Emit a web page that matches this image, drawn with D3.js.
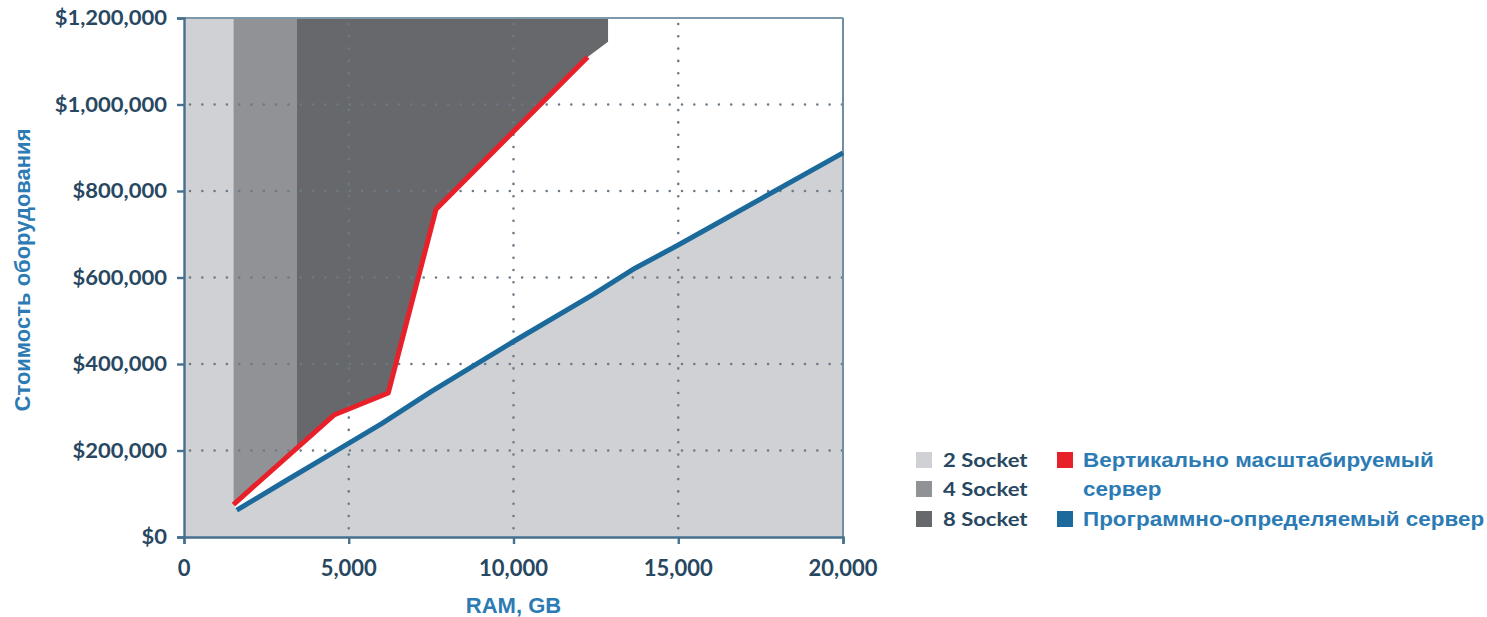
<!DOCTYPE html>
<html>
<head>
<meta charset="utf-8">
<script src="https://cdn.jsdelivr.net/npm/d3@7"></script>
<style>
  html, body { margin: 0; padding: 0; background: #ffffff; }
  svg { display: block; }
</style>
</head>
<body>
<svg id="chart" width="1487" height="617"></svg>
<script>
// RAM (GB) vs hardware cost
const xTicks = [0, 5000, 10000, 15000, 20000];
const yTicks = [0, 200000, 400000, 600000, 800000, 1000000, 1200000];

// scale-up (vertical) server: RAM GB and cost $
const scaleUpRam  = [1500, 4550, 6200, 7650, 12250];
const scaleUpCost = [75000, 282000, 333000, 758000, 1110000];

// software-defined server: RAM GB and cost $
const sdsRam  = [1600, 3000, 4500, 6000, 7500, 10000, 12400, 13700, 15000, 20000];
const sdsCost = [62000, 126000, 194000, 262000, 336000, 452000, 560000, 622000, 675000, 888000];

// socket-class bands (RAM GB bounds)
const socketNames = ["2 Socket", "4 Socket", "8 Socket"];
const socketStart = [0, 1500, 3430];
const socketEnd   = [1500, 3430, 12870];
const eightSocketCornerCost = 1145000;

const colors = {
  s2: "#cfd1d4", s4: "#909295", s8: "#66686b",
  red: "#e8202a", blue: "#1b6a9b",
  axis: "#46708e", grid: "#6c7a88",
  tick: "#284761", title: "#2c7bb4"
};

const svg = d3.select("#chart");
const plot = { left: 184, right: 843, top: 18, bottom: 537 };

const x = d3.scaleLinear().domain([0, 20000]).range([plot.left, plot.right]);
const y = d3.scaleLinear().domain([0, 1200000]).range([plot.bottom, plot.top]);

const upPts  = scaleUpRam.map((r, i) => [r, scaleUpCost[i]]);
const sdsPts = sdsRam.map((r, i) => [r, sdsCost[i]]);
const line = d3.line().x(d => x(d[0])).y(d => y(d[1]));

// text drawn with a slight horizontal stretch
function wideText(parent, str, px, py, sx, anchor) {
  return parent.append("text").text(str)
    .attr("transform", `translate(${px},${py}) scale(${sx},1)`)
    .attr("text-anchor", anchor || "start");
}

// base fill: everything is 2-socket grey
svg.append("rect")
  .attr("x", x(0)).attr("y", y(1200000))
  .attr("width", x(20000) - x(0)).attr("height", y(0) - y(1200000))
  .attr("fill", colors.s2);

// white gap above the software-defined line
const whitePoly = [upPts[0], ...sdsPts, [20000, 1200000], [socketStart[1], 1200000]];
svg.append("path").attr("d", line(whitePoly) + "Z").attr("fill", "#ffffff");

// interpolate the scale-up line at a given RAM
function upAt(r) {
  for (let i = 0; i < upPts.length - 1; i++) {
    const a = upPts[i], b = upPts[i + 1];
    if (r >= a[0] && r <= b[0]) return a[1] + (b[1] - a[1]) * (r - a[0]) / (b[0] - a[0]);
  }
  return upPts[upPts.length - 1][1];
}

// 4-socket band
const s4Poly = [[socketStart[1], 1200000], [socketEnd[1], 1200000], [socketEnd[1], upAt(socketEnd[1])],
  ...upPts.filter(p => p[0] > socketStart[1] && p[0] < socketEnd[1]).reverse(), upPts[0]];
svg.append("path").attr("d", line(s4Poly) + "Z").attr("fill", colors.s4);

// 8-socket band
const s8Poly = [[socketStart[2], 1200000], [socketEnd[2], 1200000], [socketEnd[2], eightSocketCornerCost],
  ...upPts.filter(p => p[0] > socketStart[2]).reverse(), [socketStart[2], upAt(socketStart[2])]];
svg.append("path").attr("d", line(s8Poly) + "Z").attr("fill", colors.s8);

// dotted grid
const grid = svg.append("g").attr("stroke", colors.grid).attr("stroke-width", 2.6)
  .attr("stroke-linecap", "round").attr("stroke-dasharray", "0 12.3");
yTicks.filter(v => v > 0 && v < 1200000).forEach(v => {
  grid.append("line").attr("x1", x(0) + 6).attr("x2", x(20000)).attr("y1", y(v)).attr("y2", y(v));
});
xTicks.filter(v => v > 0 && v < 20000).forEach(v => {
  grid.append("line").attr("x1", x(v)).attr("x2", x(v)).attr("y1", y(1200000) + 6).attr("y2", y(0));
});

// frame top/right
svg.append("line").attr("x1", x(0)).attr("x2", x(20000)).attr("y1", y(1200000)).attr("y2", y(1200000))
  .attr("stroke", "#7d98ab").attr("stroke-width", 2);
svg.append("line").attr("x1", x(20000)).attr("x2", x(20000)).attr("y1", y(1200000)).attr("y2", y(0))
  .attr("stroke", "#6f8ea4").attr("stroke-width", 2);

// series lines
svg.append("path").attr("d", line(sdsPts)).attr("fill", "none")
  .attr("stroke", colors.blue).attr("stroke-width", 5).attr("stroke-linejoin", "round");
svg.append("path").attr("d", line(upPts)).attr("fill", "none")
  .attr("stroke", colors.red).attr("stroke-width", 5).attr("stroke-linejoin", "round");

// axes
const yAxis = svg.append("g").attr("transform", `translate(${plot.left},0)`)
  .call(d3.axisLeft(y).tickValues(yTicks).tickSize(7).tickFormat(""));
const xAxis = svg.append("g").attr("transform", `translate(0,${plot.bottom})`)
  .call(d3.axisBottom(x).tickValues(xTicks).tickSize(7).tickFormat(""));
[yAxis, xAxis].forEach(a => {
  a.select(".domain").attr("stroke", colors.axis).attr("stroke-width", 2.4);
  a.selectAll(".tick line").attr("stroke", colors.axis).attr("stroke-width", 2.4);
});

// tick labels
const fmtY = d3.format("$,"), fmtX = d3.format(",");
const tickG = svg.append("g").attr("fill", colors.tick)
  .style("font-family", "Lato, sans-serif").style("font-weight", "700");
yTicks.forEach(v => {
  wideText(tickG, fmtY(v), 167, y(v) + 7, 1.1, "end").style("font-size", "20px");
});
xTicks.forEach(v => {
  wideText(tickG, fmtX(v), x(v), 576, 1.0, "middle").style("font-size", "22px");
});

// axis titles
const titleFont = "'Liberation Sans', Arial, sans-serif";
svg.append("text").text("RAM, GB")
  .attr("x", x(10000)).attr("y", 613).attr("text-anchor", "middle")
  .attr("fill", colors.title).style("font-family", titleFont).style("font-size", "22px").style("font-weight", "700");
svg.append("text").text("Стоимость оборудования")
  .attr("transform", `translate(30,${270}) rotate(-90)`).attr("text-anchor", "middle")
  .attr("fill", colors.title).style("font-family", titleFont).style("font-size", "22px").style("font-weight", "700");

// legend: socket bands
const socketColors = [colors.s2, colors.s4, colors.s8];
const rowY = [460, 489, 519];
const legG = svg.append("g");
socketNames.forEach((name, i) => {
  legG.append("rect").attr("x", 916).attr("y", rowY[i] - 8).attr("width", 16).attr("height", 16)
    .attr("fill", socketColors[i]);
  wideText(legG, name, 943, rowY[i] + 7, 1.16)
    .attr("fill", colors.tick).style("font-family", "Lato, sans-serif")
    .style("font-size", "19px").style("font-weight", "700");
});

// legend: series
const legendSeries = [
  { lines: ["Вертикально масштабируемый", "сервер"], color: colors.red, row: 0 },
  { lines: ["Программно-определяемый сервер"], color: colors.blue, row: 2 }
];
legendSeries.forEach(s => {
  legG.append("rect").attr("x", 1057).attr("y", rowY[s.row] - 8).attr("width", 16).attr("height", 16)
    .attr("fill", s.color);
  s.lines.forEach((t, j) => {
    wideText(legG, t, 1083, rowY[s.row + j] + 7, 1.07)
      .attr("fill", colors.title).style("font-family", titleFont)
      .style("font-size", "21px").style("font-weight", "700");
  });
});
</script>
</body>
</html>
